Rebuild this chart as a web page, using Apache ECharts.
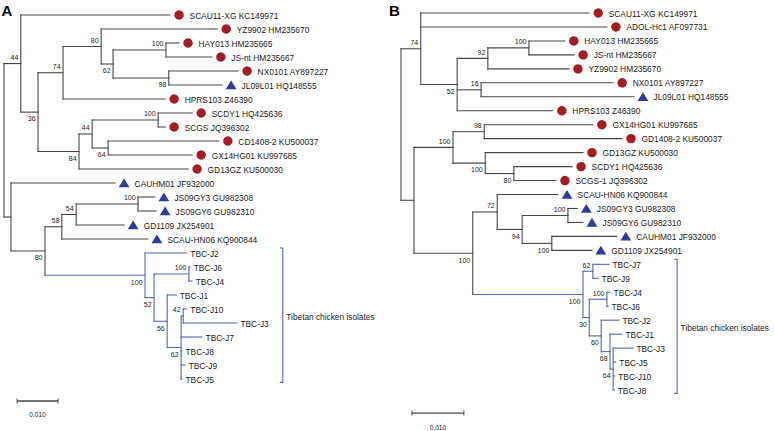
<!DOCTYPE html>
<html><head><meta charset="utf-8">
<script src="https://cdn.jsdelivr.net/npm/echarts@6/dist/echarts.min.js"></script>
<style>html,body{margin:0;padding:0;background:#fff}#c{width:774px;height:431px}</style>
</head><body><div id="c"></div>
<script>
// ---------- Panel A data (branch depths in units of 0.001 substitutions/site) ----------
const leavesA = ["SCAU11-XG KC149971","YZ9902 HM235670","HAY013 HM235665","JS-nt HM235667","NX0101 AY897227","JL09L01 HQ148555","HPRS103 Z46390","SCDY1 HQ425636","SCGS JQ396302","CD1408-2 KU500037","GX14HG01 KU997685","GD13GZ KU500030","CAUHM01 JF932000","JS09GY3 GU982308","JS09GY6 GU982310","GD1109 JX254901","SCAU-HN06 KQ900844","TBC-J2","TBC-J6","TBC-J4","TBC-J1","TBC-J10","TBC-J3","TBC-J7","TBC-J8","TBC-J9","TBC-J5"];
const leafMarkA = ["c","c","c","c","c","t","c","c","c","c","c","c","t","t","t","t","t","","","","","","","","","",""];
const leafTipA = [40.5,52.0,42.7,50.7,57.1,53.2,39.3,45.9,39.3,52.4,45.9,44.9,27.1,36.8,37.1,29.3,35.1,44.6,45.4,45.9,42.0,44.6,56.8,48.3,43.4,44.2,43.4];
const leafParentA = [1,4,6,6,7,7,3,10,10,11,11,8,12,16,16,15,14,17,19,19,20,22,22,21,21,21,21];
const nodeDepthA = [0,4.1,8.3,14.4,23.7,26.6,39.5,40.2,18.3,21.5,37.6,25.4,1.7,10.0,14.1,17.6,32.7,34.4,36.6,45.1,39.8,43.2,43.7];
const nodeParentA = [-1,0,1,2,3,4,5,5,2,8,9,9,0,12,13,14,15,13,17,18,18,20,21];
const nodeSupportA = [null,44,36,74,80,62,100,98,84,44,100,64,null,80,58,54,100,100,52,100,56,62,42];
const cladeNodeA = 17;

// ---------- Panel B data ----------
const leavesB = ["SCAU11-XG KC149971","ADOL-Hc1 AF097731","HAY013 HM235665","JS-nt HM235667","YZ9902 HM235670","NX0101 AY897227","JL09L01 HQ148555","HPRS103 Z46390","GX14HG01 KU997685","GD1408-2 KU500037","GD13GZ KU500030","SCDY1 HQ425636","SCGS-1 JQ396302","SCAU-HN06 KQ900844","JS09GY3 GU982308","JS09GY6 GU982310","CAUHM01 JF932000","GD1109 JX254901","TBC-J7","TBC-J9","TBC-J4","TBC-J6","TBC-J2","TBC-J1","TBC-J3","TBC-J5","TBC-J10","TBC-J8"];
const leafMarkB = ["c","c","c","c","c","c","t","c","c","c","c","c","c","t","t","t","t","t","","","","","","","","","",""];
const leafTipB = [36.2,39.6,31.5,33.3,32.3,40.8,44.8,29.2,36.9,42.5,35.0,32.9,29.8,30.2,33.9,35.0,41.5,36.7,40.0,37.9,40.2,39.8,41.9,42.5,44.6,41.3,41.1,41.0];
const leafParentB = [1,1,4,4,3,5,5,2,8,8,9,10,10,12,14,14,15,15,17,17,19,19,20,21,22,22,22,22];
const nodeDepthB = [0,3.8,10.8,16.7,24.6,15.4,2.5,10.0,16.0,16.2,21.7,13.8,18.5,23.3,32.1,29.0,35.0,36.9,36.2,39.6,38.5,40.2,40.8];
const nodeParentB = [-1,0,1,2,3,2,0,6,7,7,9,6,11,12,13,13,11,16,16,18,18,20,21];
const nodeSupportB = [null,74,52,92,100,16,null,100,98,100,80,100,72,94,100,100,100,62,30,100,60,68,64];
const cladeNodeB = 16;

const cladeLabel = "Tibetan chicken isolates";
const scaleValue = 0.010;   // scale bar value (substitutions/site)
const scaleLabel = "0.010";

// ---------- styling ----------
const FONT = '"Liberation Sans", Arial, Helvetica, sans-serif';
const GRAY = '#474747', BLUE = '#5467b3', RED = '#a31d22', TRI = '#2e3b98', TXT = '#1c1c1c';

function buildTree(leafTip, leafParent, nodeDepth, nodeParent, support, clade) {
  const nN = nodeDepth.length;
  const children = Array.from({length: nN}, () => []);
  leafParent.forEach((p, i) => children[p].push({leaf: true, i}));
  nodeParent.forEach((p, i) => { if (p >= 0) children[p].push({leaf: false, i}); });
  const nodeY = new Array(nN);
  const yOf = c => c.leaf ? c.i : getY(c.i);
  function getY(n) {
    if (nodeY[n] === undefined) {
      const ys = children[n].map(yOf);
      nodeY[n] = (Math.min(...ys) + Math.max(...ys)) / 2;
    }
    return nodeY[n];
  }
  const inClade = n => { while (n >= 0) { if (n === clade) return true; n = nodeParent[n]; } return false; };
  const edges = [];
  for (let n = 0; n < nN; n++) {
    const ys = children[n].map(yOf);
    const b = inClade(n) ? 1 : 0;
    edges.push([nodeDepth[n], Math.min(...ys), nodeDepth[n], Math.max(...ys), b]);
    const p = nodeParent[n];
    if (p >= 0) edges.push([nodeDepth[p], getY(n), nodeDepth[n], getY(n), b]);
  }
  leafParent.forEach((p, i) => edges.push([nodeDepth[p], i, leafTip[i], i, inClade(p) ? 1 : 0]));
  const sup = [];
  for (let n = 0; n < nN; n++) {
    if (support[n] == null) continue;
    const sib = children[nodeParent[n]].map(yOf);
    const below = getY(n) >= Math.max(...sib) - 1e-9 ? 1 : 0;
    sup.push([nodeDepth[n], getY(n), support[n], below]);
  }
  const cladeRows = [];
  leafParent.forEach((p, i) => { if (inClade(p)) cladeRows.push(i); });
  return {edges, sup, cladeRows};
}

const treeA = buildTree(leafTipA, leafParentA, nodeDepthA, nodeParentA, nodeSupportA, cladeNodeA);
const treeB = buildTree(leafTipB, leafParentB, nodeDepthB, nodeParentB, nodeSupportB, cladeNodeB);

function edgeRender(params, api) {
  const p1 = api.coord([api.value(0), api.value(1)]);
  const p2 = api.coord([api.value(2), api.value(3)]);
  return {type: 'line', shape: {x1: p1[0], y1: p1[1], x2: p2[0], y2: p2[1]},
    style: {stroke: api.value(4) ? BLUE : GRAY, lineWidth: 1.1, lineCap: 'square'}};
}
function leafRender(names, marks) {
  return function (params, api) {
    const p = api.coord([api.value(0), api.value(1)]);
    const i = params.dataIndex, m = marks[i];
    const kids = [];
    let tx = p[0] + 3.5;
    if (m === 'c') {
      kids.push({type: 'circle', shape: {cx: p[0] + 9, cy: p[1], r: 4.7}, style: {fill: RED}});
      tx = p[0] + 19.5;
    } else if (m === 't') {
      const cx = p[0] + 9, cy = p[1];
      kids.push({type: 'polygon', shape: {points: [[cx, cy - 4.6], [cx + 5.4, cy + 4.2], [cx - 5.4, cy + 4.2]]}, style: {fill: TRI}});
      tx = p[0] + 19.5;
    }
    kids.push({type: 'text', x: tx, y: p[1] + 0.5, style: {text: names[i], fill: TXT, fontSize: 8.4, fontFamily: FONT, align: 'left', verticalAlign: 'middle'}});
    return {type: 'group', children: kids};
  };
}
function supRender(params, api) {
  const p = api.coord([api.value(0), api.value(1)]);
  const below = api.value(3);
  return {type: 'text', x: p[0] - 2.5, y: p[1] + (below ? 6.8 : -6.2),
    style: {text: String(api.value(2)), fill: TXT, fontSize: 7, fontFamily: FONT, align: 'right', verticalAlign: 'middle'}};
}
function extraRender(cfg, rows) {
  return function (params, api) {
    const top = api.coord([cfg.bracketX, Math.min(...rows) - 0.36]);
    const bot = api.coord([cfg.bracketX, Math.max(...rows) + 0.24]);
    const s0 = api.coord([cfg.scaleX, cfg.scaleRow]);
    const s1 = api.coord([cfg.scaleX + scaleValue * 1000, cfg.scaleRow]);
    const kids = [
      {type: 'polyline', shape: {points: [[top[0] - 3, top[1]], [top[0], top[1]], [bot[0], bot[1]], [bot[0] - 3, bot[1]]]}, style: {stroke: BLUE, lineWidth: 1.1, fill: null}},
      {type: 'text', x: top[0] + 3.5, y: (top[1] + bot[1]) / 2 + 2, style: {text: cladeLabel, fill: TXT, fontSize: 8.3, fontFamily: FONT, align: 'left', verticalAlign: 'middle'}},
      {type: 'line', shape: {x1: s0[0], y1: s0[1], x2: s1[0], y2: s1[1]}, style: {stroke: GRAY, lineWidth: 1.3}},
      {type: 'line', shape: {x1: s0[0], y1: s0[1] - 2.5, x2: s0[0], y2: s0[1] + 2.5}, style: {stroke: GRAY, lineWidth: 1}},
      {type: 'line', shape: {x1: s1[0], y1: s1[1] - 2.5, x2: s1[0], y2: s1[1] + 2.5}, style: {stroke: GRAY, lineWidth: 1}},
      {type: 'text', x: (s0[0] + s1[0]) / 2, y: s0[1] + 14, style: {text: scaleLabel, fill: TXT, fontSize: 6.6, fontFamily: FONT, align: 'center', verticalAlign: 'middle'}}
    ];
    return {type: 'group', children: kids};
  };
}

const layoutA = {bracketX: 68.0, scaleX: 3.2, scaleRow: 27.57};
const layoutB = {bracketX: 53.1, scaleX: 2.1, scaleRow: 28.65};

function panelSeries(idx, tree, names, marks, tips, layout) {
  const common = {type: 'custom', xAxisIndex: idx, yAxisIndex: idx, silent: true, animation: false, clip: false};
  return [
    Object.assign({}, common, {data: tree.edges, renderItem: edgeRender}),
    Object.assign({}, common, {data: tips.map((x, i) => [x, i]), renderItem: leafRender(names, marks)}),
    Object.assign({}, common, {data: tree.sup, renderItem: supRender}),
    Object.assign({}, common, {data: [[0, 0]], renderItem: extraRender(layout, tree.cladeRows)})
  ];
}

const chart = echarts.init(document.getElementById('c'), null, {renderer: 'svg'});
chart.setOption({
  backgroundColor: '#fff',
  animation: false,
  grid: [
    {left: 4, top: 15, width: 410, height: 364, containLabel: false},
    {left: 401, top: 13, width: 364, height: 377, containLabel: false}
  ],
  xAxis: [
    {gridIndex: 0, type: 'value', min: 0, max: 100, show: false},
    {gridIndex: 1, type: 'value', min: 0, max: 70, show: false}
  ],
  yAxis: [
    {gridIndex: 0, type: 'value', min: 0, max: leavesA.length - 1, inverse: true, show: false},
    {gridIndex: 1, type: 'value', min: 0, max: leavesB.length - 1, inverse: true, show: false}
  ],
  graphic: [
    {type: 'text', x: 1.5, y: 3, style: {text: 'A', fontSize: 15, fontWeight: 'bold', fontFamily: FONT, fill: '#000'}},
    {type: 'text', x: 389, y: 3, style: {text: 'B', fontSize: 15, fontWeight: 'bold', fontFamily: FONT, fill: '#000'}}
  ],
  series: [].concat(
    panelSeries(0, treeA, leavesA, leafMarkA, leafTipA, layoutA),
    panelSeries(1, treeB, leavesB, leafMarkB, leafTipB, layoutB)
  )
});
</script>
</body></html>
